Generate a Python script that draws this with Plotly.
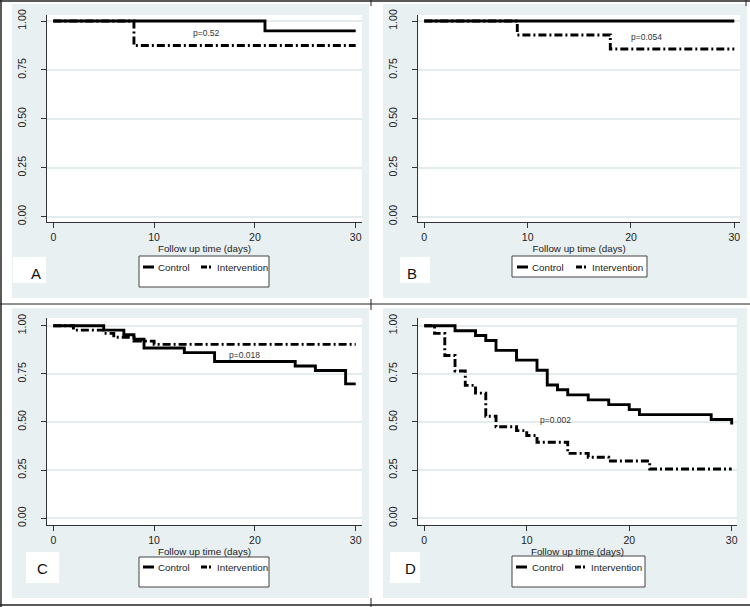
import plotly.graph_objects as go

W, H = 750, 607

# ---------------- data ----------------
A_ctrl_t = [0, 21, 30]
A_ctrl_s = [1.0, 0.95, 0.95]
A_int_t = [0, 8, 30]
A_int_s = [1.0, 0.875, 0.875]

B_ctrl_t = [0, 30]
B_ctrl_s = [1.0, 1.0]
B_int_t = [0, 9, 18, 30]
B_int_s = [1.0, 0.929, 0.857, 0.857]

C_ctrl_t = [0, 5, 7, 8, 9, 13, 16, 24, 26, 29, 30]
C_ctrl_s = [1.0, 0.977, 0.953, 0.930, 0.884, 0.860, 0.814, 0.791, 0.767, 0.698, 0.698]
C_int_t = [0, 2, 5, 6, 8, 10, 30]
C_int_s = [1.0, 0.977, 0.960, 0.940, 0.920, 0.903, 0.903]

D_ctrl_t = [0, 3, 5, 6, 7, 9, 11, 12, 13, 14, 16, 18, 20, 21, 28, 30]
D_ctrl_s = [1.0, 0.974, 0.949, 0.923, 0.872, 0.821, 0.769, 0.692, 0.667, 0.641,
            0.615, 0.590, 0.564, 0.538, 0.513, 0.487]
D_int_t = [0, 1, 2, 3, 4, 5, 6, 7, 9, 10, 11, 14, 16, 18, 22, 30]
D_int_s = [1.0, 0.96, 0.845, 0.765, 0.69, 0.65, 0.53, 0.475, 0.455, 0.43,
           0.395, 0.337, 0.317, 0.297, 0.256, 0.256]

panel_letters = ["A", "B", "C", "D"]
p_texts = ["p=0.52", "p=0.054", "p=0.018", "p=0.002"]
p_pos_t = [15.2, 21.5, 19.0, 12.8]
p_pos_s = [0.937, 0.92, 0.847, 0.51]
series_names = ["Control", "Intervention"]
x_ticks = [0, 10, 20, 30]
y_ticks = [0.0, 0.25, 0.5, 0.75, 1.0]
x_title = "Follow up time (days)"

# ---------------- styling ----------------
FONT = "Liberation Sans, Arial, sans-serif"
PANEL_BG = "#e9f0f2"
GRID = "#e4ecee"
TXT = "#222222"
DASHDOT = "8px,3px,2px,3px"


def px(x):
    return x / W


def py(y):
    return 1 - y / H


panels = [
    dict(xd=(47, 362), yd=(15, 222), xr=[-0.625, 30.625], yr=[-0.027, 1.031],
         bg=(12, 4, 369, 298), lbl_box=(13, 257, 46, 283), lbl=(36, 273),
         leg_box=(139, 256, 269, 287), leg_y=267,
         leg_items=[(143, 154, 174), (201, 212, 242)]),
    dict(xd=(418.3, 740), yd=(15, 222), xr=[-0.58, 30.55], yr=[-0.027, 1.031],
         bg=(383, 4, 747, 298), lbl_box=(400, 257, 430, 283), lbl=(412, 273),
         leg_box=(512, 256, 647, 277), leg_y=267,
         leg_items=[(517, 528, 548), (576, 587, 617)]),
    dict(xd=(47, 362), yd=(318, 525), xr=[-0.625, 30.625], yr=[-0.035, 1.04],
         bg=(12, 308, 369, 598), lbl_box=(26, 552, 59, 583), lbl=(42, 568),
         leg_box=(139, 557, 269, 587), leg_y=567,
         leg_items=[(143, 154, 174), (201, 212, 242)]),
    dict(xd=(418.3, 736.7), yd=(318, 525), xr=[-0.585, 30.49], yr=[-0.035, 1.04],
         bg=(383, 308, 747, 598), lbl_box=(390, 552, 420, 583), lbl=(410, 568),
         leg_box=(512, 556, 645, 587), leg_y=567,
         leg_items=[(516, 527, 548), (575, 587, 616)]),
]

data = [
    ((A_ctrl_t, A_ctrl_s), (A_int_t, A_int_s)),
    ((B_ctrl_t, B_ctrl_s), (B_int_t, B_int_s)),
    ((C_ctrl_t, C_ctrl_s), (C_int_t, C_int_s)),
    ((D_ctrl_t, D_ctrl_s), (D_int_t, D_int_s)),
]

fig = go.Figure()
layout = dict(
    template="none",
    width=W, height=H, autosize=False,
    margin=dict(l=0, r=0, t=0, b=0, pad=0, autoexpand=False),
    paper_bgcolor="white", plot_bgcolor="white", showlegend=False,
    font=dict(family=FONT, color=TXT),
)
shapes = []
annotations = []

line_c = "#222"
shapes += [
    dict(type="line", xref="paper", yref="paper", x0=0, x1=1, y0=py(1), y1=py(1),
         line=dict(color=line_c, width=1.5), layer="above"),
    dict(type="line", xref="paper", yref="paper", x0=0, x1=1, y0=py(605), y1=py(605),
         line=dict(color=line_c, width=1.5), layer="above"),
    dict(type="line", xref="paper", yref="paper", x0=px(1), x1=px(1), y0=py(0), y1=py(607),
         line=dict(color=line_c, width=1.5), layer="above"),
    dict(type="line", xref="paper", yref="paper", x0=0, x1=1, y0=py(304), y1=py(304),
         line=dict(color=line_c, width=1.2), layer="above"),
]
for (y0, y1) in [(0, 6), (299, 310), (598, 607)]:
    shapes.append(dict(type="line", xref="paper", yref="paper", x0=px(371), x1=px(371),
                       y0=py(y0), y1=py(y1), line=dict(color=line_c, width=1), layer="above"))
shapes.append(dict(type="line", xref="paper", yref="paper", x0=px(746), x1=px(746),
                   y0=py(0), y1=py(6), line=dict(color=line_c, width=1), layer="above"))

for i, p in enumerate(panels):
    k = "" if i == 0 else str(i + 1)
    xa, ya = "xaxis" + k, "yaxis" + k
    xref, yref = "x" + k, "y" + k

    bx0, by0, bx1, by1 = p["bg"]
    shapes.append(dict(type="rect", xref="paper", yref="paper", x0=px(bx0), x1=px(bx1),
                       y0=py(by1), y1=py(by0), fillcolor=PANEL_BG, line=dict(width=0),
                       layer="below"))
    shapes.append(dict(type="rect", xref="paper", yref="paper", x0=px(p["xd"][0]),
                       x1=px(p["xd"][1]), y0=py(p["yd"][1]), y1=py(p["yd"][0]),
                       fillcolor="white", line=dict(width=0), layer="below"))

    layout[xa] = dict(
        domain=[px(p["xd"][0]), px(p["xd"][1])], range=p["xr"], anchor=yref,
        automargin=False,
        tickvals=x_ticks, ticks="outside", ticklen=5, tickcolor="#333", tickwidth=1,
        showline=True, linecolor="#333", linewidth=1, showgrid=False, zeroline=False,
        tickfont=dict(size=10.5, family=FONT, color=TXT),
        title=dict(text=x_title, font=dict(size=9.8, family=FONT, color=TXT), standoff=0),
        fixedrange=True,
    )
    layout[ya] = dict(
        domain=[py(p["yd"][1]), py(p["yd"][0])], range=p["yr"], anchor=xref,
        automargin=False,
        tickvals=y_ticks, tickformat=".2f", ticks="outside", ticklen=5, tickcolor="#333",
        tickwidth=1, tickangle=-90, showline=True, linecolor="#333", linewidth=1,
        showgrid=True, gridcolor=GRID, gridwidth=1.5, zeroline=False,
        tickfont=dict(size=10.5, family=FONT, color=TXT), ticklabelstandoff=11,
        fixedrange=True,
    )

    (ct, cs), (it, is_) = data[i]
    fig.add_trace(go.Scatter(x=ct, y=cs, mode="lines", name=series_names[0],
                             line=dict(color="black", width=2.9, shape="hv"),
                             xaxis=xref, yaxis=yref))
    fig.add_trace(go.Scatter(x=it, y=is_, mode="lines", name=series_names[1],
                             line=dict(color="black", width=2.9, shape="hv", dash=DASHDOT),
                             xaxis=xref, yaxis=yref))

    annotations.append(dict(x=p_pos_t[i], y=p_pos_s[i], xref=xref, yref=yref,
                            text=p_texts[i], showarrow=False,
                            xanchor="center", yanchor="middle",
                            font=dict(size=8.5, family=FONT, color="#333")))

    lx0, ly0, lx1, ly1 = p["lbl_box"]
    shapes.append(dict(type="rect", xref="paper", yref="paper", x0=px(lx0), x1=px(lx1),
                       y0=py(ly1), y1=py(ly0), fillcolor="white", line=dict(width=0),
                       layer="below"))
    annotations.append(dict(x=px(p["lbl"][0]), y=py(p["lbl"][1]), xref="paper",
                            yref="paper", text=panel_letters[i], showarrow=False,
                            xanchor="center", yanchor="middle",
                            font=dict(size=15, family=FONT, color="#111")))

    gx0, gy0, gx1, gy1 = p["leg_box"]
    shapes.append(dict(type="rect", xref="paper", yref="paper", x0=px(gx0), x1=px(gx1),
                       y0=py(gy1), y1=py(gy0), fillcolor="white",
                       line=dict(color="#444", width=1), layer="below"))
    for j, (sx0, sx1, tx) in enumerate(p["leg_items"]):
        shapes.append(dict(type="line", xref="paper", yref="paper", x0=px(sx0), x1=px(sx1),
                           y0=py(p["leg_y"]), y1=py(p["leg_y"]),
                           line=dict(color="black", width=3,
                                     dash="solid" if j == 0 else "6px,2px,2px,2px"),
                           layer="above"))
        annotations.append(dict(x=px(tx), y=py(p["leg_y"]), xref="paper", yref="paper",
                                text=series_names[j], showarrow=False,
                                xanchor="center", yanchor="middle",
                                font=dict(size=9.8, family=FONT, color=TXT)))

layout["shapes"] = shapes
layout["annotations"] = annotations
fig.update_layout(**layout)
fig.write_html("out.html",
               config={"displayModeBar": False, "staticPlot": False},
               post_script="document.body.style.margin='0px';document.body.style.padding='0px';")
